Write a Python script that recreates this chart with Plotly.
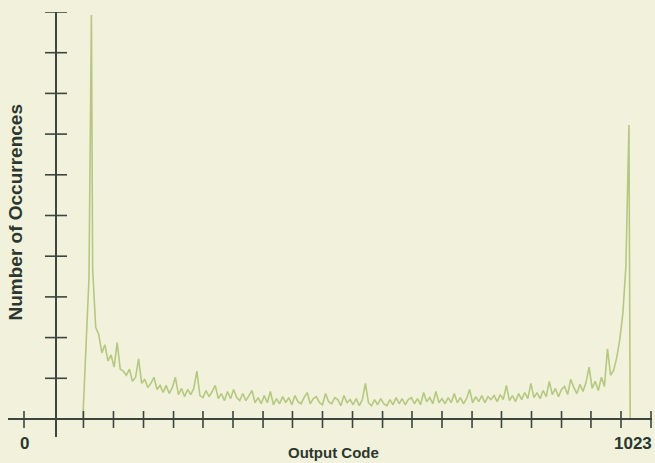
import plotly.graph_objects as go

# Histogram of ADC output codes for a sine-wave input (counts per code bin).
# Leading edge: the first populated codes, climbing to the low-end peak.
lead_codes = [96, 106, 110]
lead_counts = [0, 138, 397]

# Main body, one reading every 5 codes starting at code 112.
first_code = 112
code_step = 5
body_counts = [
    148, 90, 83, 65, 73, 57, 63, 51, 75, 49,
    47, 43, 49, 37, 41, 59, 35, 39, 31, 35,
    41, 29, 33, 26, 33, 25, 31, 41, 24, 30,
    22, 29, 24, 30, 47, 23, 21, 28, 22, 27,
    33, 20, 25, 18, 27, 20, 29, 21, 18, 25,
    18, 23, 28, 16, 21, 15, 23, 16, 27, 14,
    20, 15, 22, 16, 21, 14, 23, 17, 15, 21,
    26, 15, 20, 22, 16, 14, 25, 17, 15, 21,
    19, 13, 23, 16, 19, 14, 20, 13, 19, 35,
    16, 13, 19, 14, 20, 15, 13, 19, 14, 21,
    15, 20, 14, 19, 21, 15, 20, 14, 26, 17,
    21, 15, 27, 16, 20, 15, 21, 16, 25, 16,
    21, 15, 20, 29, 16, 22, 17, 23, 16, 22,
    19, 23, 17, 24, 19, 33, 18, 23, 17, 25,
    19, 26, 20, 35, 21, 26, 20, 28, 22, 37,
    24, 30, 22, 29, 32, 24, 39, 31, 25, 34,
    27, 36, 51, 30, 37, 28, 41, 32, 69, 43,
    48, 60, 78, 103, 150, 289,
]
body_codes = [first_code + code_step * i for i in range(len(body_counts))]

# Trailing edge: drop back to zero after the high-end peak.
tail_codes = [989]
tail_counts = [0]

codes = lead_codes + body_codes + tail_codes
counts = lead_counts + body_counts + tail_counts

# Axis ticks (unlabelled except the end codes)
x_tick_codes = [0, 97, 146, 195, 244, 292, 341, 390, 438, 487, 536, 585,
                633, 682, 731, 779, 828, 877, 925, 974, 1023]
y_tick_counts = [40, 80, 120, 160, 200, 240, 280, 320, 360, 400]
end_labels = ["0", "1023"]
end_label_codes = [0, 1023]

BG = "#f2f2dc"
INK = "#3a463e"
TEXT = "#2c372f"
GREEN = "#b4c880"
FONT = "Liberation Sans"

W, H = 655, 463
M_L, M_R, M_T, M_B = 8, 3, 12, 26
x_range = [-26.1, 1024.6]
y_range = [-17.7, 400]
y_axis_code = 52.2  # where the vertical axis crosses the code axis

plot_h = H - M_T - M_B
yaxis_pos = (y_axis_code - x_range[0]) / (x_range[1] - x_range[0])
xaxis_pos = (0 - y_range[0]) / (y_range[1] - y_range[0])

fig = go.Figure()
fig.add_trace(go.Scatter(
    x=codes, y=counts, mode="lines",
    line=dict(color=GREEN, width=1.6),
    hoverinfo="skip", showlegend=False,
))

axis_common = dict(showgrid=False, zeroline=False, showticklabels=False,
                   ticks="", showline=True, linecolor=INK, linewidth=1.6)

fig.update_layout(
    width=W, height=H,
    margin=dict(l=M_L, r=M_R, t=M_T, b=M_B, pad=0),
    paper_bgcolor=BG, plot_bgcolor=BG,
    xaxis=dict(range=x_range, anchor="free", position=xaxis_pos, **axis_common),
    yaxis=dict(range=y_range, anchor="free", position=yaxis_pos, **axis_common),
)

# Tick marks crossing each axis (length set in pixels, placed at data values)
tick_line = dict(color=INK, width=1.6)
for c in x_tick_codes:
    fig.add_shape(type="line", xref="x", yref="y",
                  x0=c, x1=c, ysizemode="pixel", yanchor=0, y0=-9, y1=8,
                  line=tick_line, layer="above")
for v in y_tick_counts:
    fig.add_shape(type="line", xref="x", yref="y",
                  y0=v, y1=v, xsizemode="pixel", xanchor=y_axis_code, x0=-11, x1=11,
                  line=tick_line, layer="above")


def below_axis(py):
    # paper y for a pixel row below the plot area
    return -(py - (H - M_B)) / plot_h


num_font = dict(family=FONT, size=17, color=TEXT)
for txt, c in zip(end_labels, end_label_codes):
    fig.add_annotation(
        x=c, xref="x", y=below_axis(444), yref="paper", yanchor="middle",
        text=f"<b>{txt}</b>", showarrow=False, font=num_font,
        xanchor="center", xshift=0 if c == 0 else -18,
    )
fig.add_annotation(
    x=0.5, xref="paper", y=below_axis(452), yref="paper", yanchor="middle",
    xshift=3,
    text="<b>Output Code</b>", showarrow=False,
    font=dict(family=FONT, size=15, color=TEXT),
)
fig.add_annotation(
    x=0.0, xref="paper", y=0.5, yref="paper", xanchor="center",
    xshift=7, yshift=12,
    text="<b>Number of Occurrences</b>", textangle=-90, showarrow=False,
    font=dict(family=FONT, size=19, color=TEXT),
)

fig.write_html("out.html")
